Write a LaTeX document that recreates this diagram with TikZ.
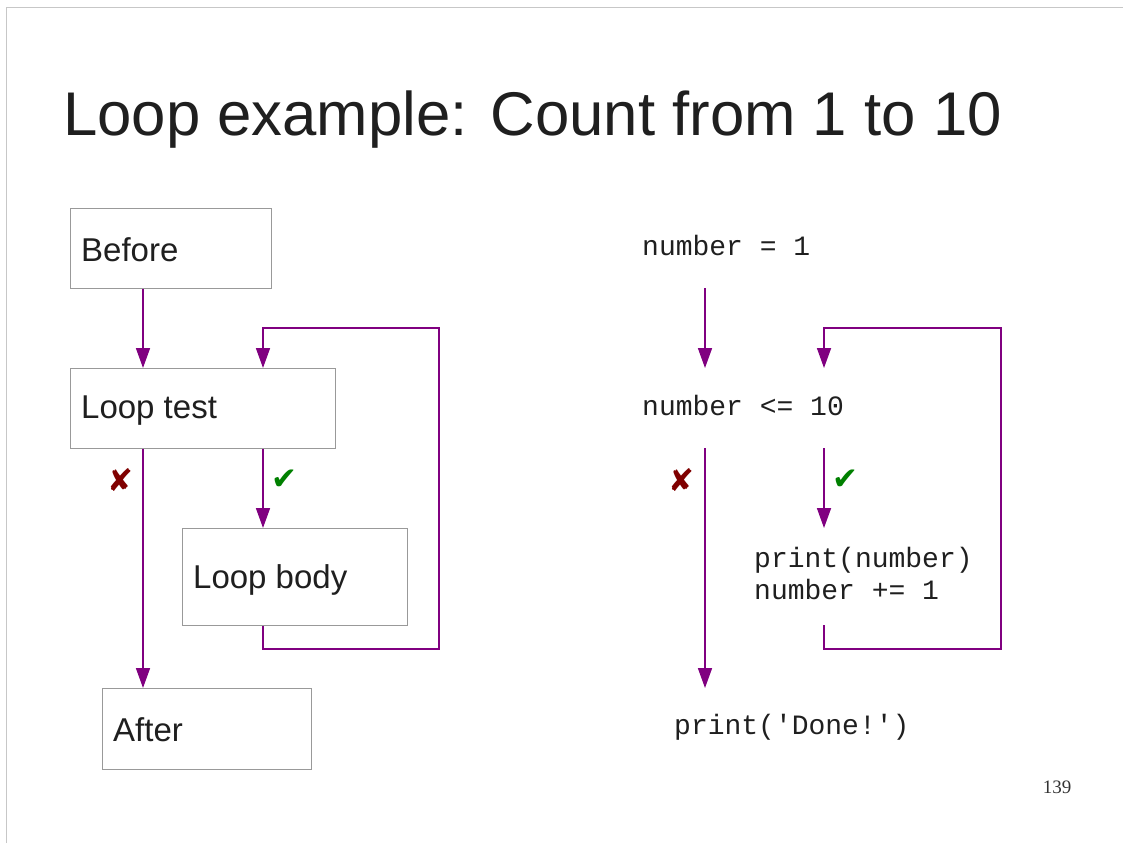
\documentclass[tikz,border=0pt]{standalone}
\usepackage{fontspec}
\setmainfont{Liberation Sans}
\newfontfamily\monof{Liberation Mono}
\newfontfamily\seriff{Liberation Serif}
\newfontfamily\symf{DejaVu Sans}
\usetikzlibrary{arrows.meta}
\definecolor{flow}{HTML}{800080}
\definecolor{boxline}{HTML}{999999}
\definecolor{crossc}{HTML}{800000}
\definecolor{checkc}{HTML}{008000}
\begin{document}
\begin{tikzpicture}[x=1pt,y=-1pt,
  box/.style={draw=boxline,line width=0.8pt,inner sep=0pt,anchor=north west,font=\fontsize{33}{38}\selectfont,text=black!88},
  lbl/.style={anchor=west,inner sep=0pt},
  code/.style={anchor=west,inner sep=0pt,font=\monof\fontsize{28}{32}\selectfont,text=black!88,align=left},
  flowarr/.style={draw=flow,line width=1.7pt,-{Triangle[length=20pt,width=14pt]}},
  tickmark/.style={inner sep=0pt,font=\symf\fontsize{31}{31}\selectfont}]
\useasboundingbox (0,0) rectangle (1123,843);
\fill[white] (0,0) rectangle (1123,843);
\draw[black!22,line width=1.2pt] (6.5,843) -- (6.5,7.5) -- (1123,7.5);
\node[anchor=base west,inner sep=0pt,font=\fontsize{61.7}{70}\selectfont,text=black!88] (title) at (63,135) {Loop example: Count from 1 to 10};
% left diagram boxes
\node[box,minimum width=201pt,minimum height=80pt] (before) at (70,208) {};
\node[lbl,font=\fontsize{33}{38}\selectfont,text=black!88] (beforet) at (81,249.5) {Before};
\node[box,minimum width=265pt,minimum height=80pt] (test) at (70,368) {};
\node[lbl,font=\fontsize{33}{38}\selectfont,text=black!88] (testt) at (81,411) {Loop test};
\node[box,minimum width=225pt,minimum height=97pt] (body) at (182,528) {};
\node[lbl,font=\fontsize{33}{38}\selectfont,text=black!88] (bodyt) at (193,580) {Loop body};
\node[box,minimum width=209pt,minimum height=81pt] (after) at (102,688) {};
\node[lbl,font=\fontsize{33}{38}\selectfont,text=black!88] (aftert) at (113,730) {After};
\coordinate (lb1) at (263,649);
\coordinate (lb2) at (439,649);
\coordinate (lb3) at (439,328);
\coordinate (lb4) at (263,328);
\draw[flowarr] (before.south -| 143,0) -- (test.north -| 143,0);
\draw[flowarr] (test.south -| 143,0) -- (after.north -| 143,0);
\draw[flowarr] (test.south -| 263,0) -- (body.north -| 263,0);
\draw[flowarr] (body.south -| 263,0) -- (lb1) -- (lb2) -- (lb3) -- (lb4) -- (test.north -| 263,0);
\node[tickmark,text=crossc] (x1) at (120,480) {✘};
\node[tickmark,text=checkc] (c1) at (284,480) {✔};
% right diagram
\node[code] (n1) at (642,245.5) {number = 1};
\node[code] (n2) at (642,405.5) {number <= 10};
\node[code] (n3) at (754,573) {print(number)\\number += 1};
\node[code] (n4) at (674,727) {print('Done!')};
\coordinate (a1s) at (705,288);
\coordinate (a1e) at (705,368);
\coordinate (a2s) at (705,448);
\coordinate (a2e) at (705,688);
\coordinate (a3s) at (824,448);
\coordinate (a3e) at (824,528);
\coordinate (rb0) at (824,625);
\coordinate (rb1) at (824,649);
\coordinate (rb2) at (1001,649);
\coordinate (rb3) at (1001,328);
\coordinate (rb4) at (824,328);
\coordinate (rb5) at (824,368);
\draw[flowarr] (a1s) -- (a1e);
\draw[flowarr] (a2s) -- (a2e);
\draw[flowarr] (a3s) -- (a3e);
\draw[flowarr] (rb0) -- (rb1) -- (rb2) -- (rb3) -- (rb4) -- (rb5);
\node[tickmark,text=crossc] (x2) at (681,480) {✘};
\node[tickmark,text=checkc] (c2) at (845,480) {✔};
\node[anchor=base,inner sep=0pt,font=\seriff\fontsize{19}{22}\selectfont,text=black!80] (page) at (1057,793) {139};
\end{tikzpicture}
\end{document}
